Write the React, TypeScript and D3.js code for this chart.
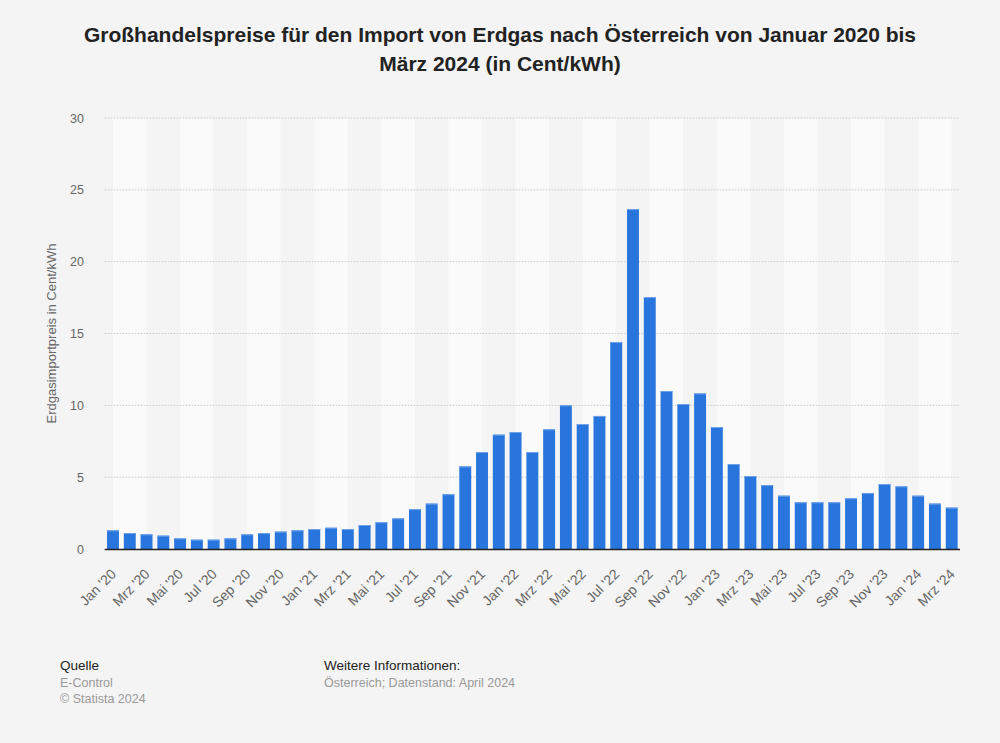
import React from "react";
import * as d3 from "d3";

const months = ["Jan", "Feb", "Mrz", "Apr", "Mai", "Jun", "Jul", "Aug", "Sep", "Okt", "Nov", "Dez"];
const categories: string[] = [];
for (let y = 20; y <= 24; y++) {
  for (let m = 0; m < 12; m++) {
    if (y === 24 && m > 2) break;
    categories.push(`${months[m]} '${y}`);
  }
}
const values = [
  1.30, 1.11, 1.02, 0.93, 0.74, 0.65, 0.65, 0.74, 1.02, 1.11, 1.21, 1.30,
  1.39, 1.48, 1.39, 1.67, 1.86, 2.13, 2.78, 3.16, 3.81, 5.75, 6.75, 7.96,
  8.14, 6.75, 8.33, 10.0, 8.70, 9.26, 14.41, 23.66, 17.54, 11.0, 10.09, 10.83,
  8.49, 5.91, 5.08, 4.45, 3.71, 3.25, 3.25, 3.25, 3.53, 3.90, 4.52, 4.36,
  3.71, 3.16, 2.88,
];
const yTicks = [0, 5, 10, 15, 20, 25, 30];

export default function App() {
  const W = 1000, H = 743;
  const left = 104.7, right = 960, top = 118, bottom = 549;
  const x = d3.scaleBand<string>().domain(categories).range([left, right]).paddingInner(0.29).paddingOuter(0.14);
  const y = d3.scaleLinear().domain([0, 30]).range([bottom, top]);
  const cx = (c: string) => (x(c) as number) + x.bandwidth() / 2;
  const font = "'Liberation Sans', Arial, sans-serif";

  const bands: { x0: number; x1: number; light: boolean }[] = [];
  for (let i = 0; i < categories.length - 1; i += 2) {
    const x0 = cx(categories[i]);
    const x1 = cx(categories[Math.min(i + 2, categories.length - 1)]);
    bands.push({ x0, x1, light: (i / 2) % 2 === 0 });
  }

  return (
    <svg width={W} height={H} style={{ position: "absolute", left: 0, top: 0, background: "#f4f4f4" }} fontFamily={font}>
      <rect x={0} y={0} width={W} height={H} fill="#f4f4f4" />
      <text x={500} y={42} textAnchor="middle" fontSize={21} fontWeight="bold" fill="#222">
        Großhandelspreise für den Import von Erdgas nach Österreich von Januar 2020 bis
      </text>
      <text x={500} y={71} textAnchor="middle" fontSize={21} fontWeight="bold" fill="#222">
        März 2024 (in Cent/kWh)
      </text>
      {bands.map((b, i) => (
        <rect key={i} x={b.x0} y={top} width={b.x1 - b.x0} height={bottom - top} fill={b.light ? "#fafafa" : "#f4f4f4"} />
      ))}
      {yTicks.map((t) => (
        <g key={t}>
          {t > 0 && (
            <line x1={left} x2={right} y1={y(t)} y2={y(t)} stroke="#c8c8c8" strokeWidth={1} strokeDasharray="1.5,1.5" />
          )}
          <text x={84} y={y(t) + 4.5} textAnchor="end" fontSize={12.5} fill="#666">
            {t}
          </text>
        </g>
      ))}
      <text transform={`translate(56,${(top + bottom) / 2}) rotate(-90)`} textAnchor="middle" fontSize={13} fill="#666">
        Erdgasimportpreis in Cent/kWh
      </text>
      {values.map((v, i) => {
        const c = categories[i];
        return (
          <g key={c}>
            <rect x={x(c)} y={y(v)} width={x.bandwidth()} height={bottom - y(v)} fill="#2876dd" />
            <rect x={x(c)} y={y(v)} width={x.bandwidth()} height={1} fill="#6fa3ea" />
          </g>
        );
      })}
      <line x1={left} x2={right} y1={bottom + 0.5} y2={bottom + 0.5} stroke="#222" strokeWidth={1.5} />
      {categories.map((c, i) =>
        i % 2 === 0 ? (
          <text key={c} transform={`translate(${cx(c) + 4},${bottom + 26}) rotate(-45)`} textAnchor="end" fontSize={14} fill="#666">
            {c}
          </text>
        ) : null
      )}
      <text x={60} y={670} fontSize={13.5} fill="#222">Quelle</text>
      <text x={60} y={687} fontSize={12.5} fill="#999">E-Control</text>
      <text x={60} y={703} fontSize={12.5} fill="#999">© Statista 2024</text>
      <text x={324} y={670} fontSize={13.5} fill="#222">Weitere Informationen:</text>
      <text x={324} y={687} fontSize={12.5} fill="#999">Österreich; Datenstand: April 2024</text>
    </svg>
  );
}
